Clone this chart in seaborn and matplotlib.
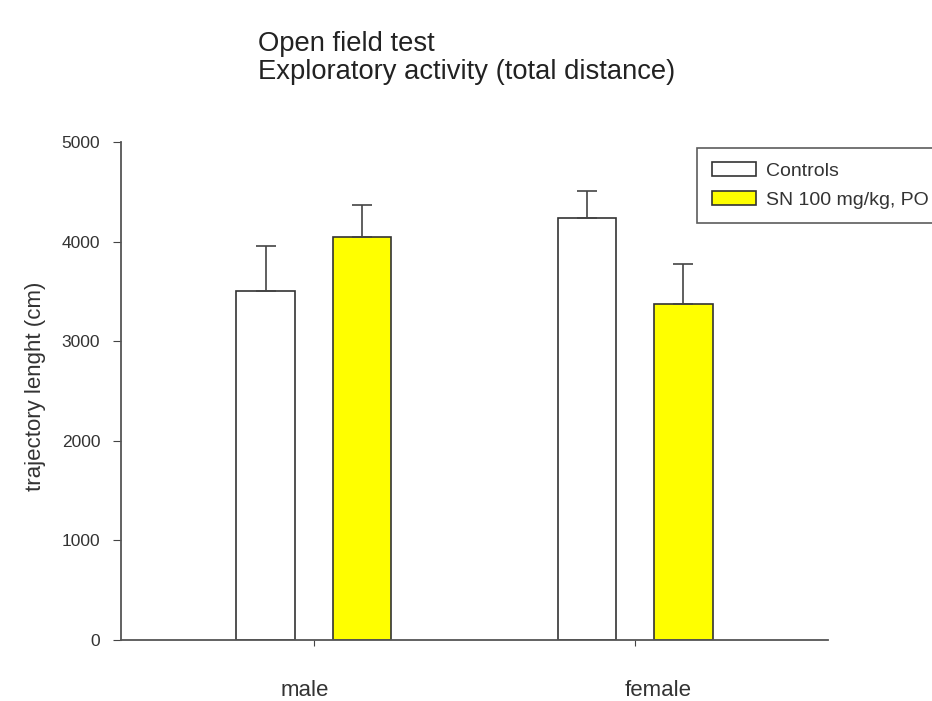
import matplotlib
matplotlib.use("Agg")
import matplotlib.pyplot as plt
import matplotlib.transforms as mtransforms
import seaborn as sns
import pandas as pd
from matplotlib.patches import Patch

sexes = ["male", "female"]
groups = ["Controls", "SN 100 mg/kg, PO"]
controls_mean = [3500, 4240]
controls_err = [460, 265]
sn_mean = [4050, 3370]
sn_err = [315, 410]
colors = ["#ffffff", "#ffff00"]
yticks = [0, 1000, 2000, 3000, 4000, 5000]

df = pd.DataFrame({
    "sex": sexes * 2,
    "group": [groups[0]] * 2 + [groups[1]] * 2,
    "mean": controls_mean + sn_mean,
    "err": controls_err + sn_err,
})

sns.set_style("ticks")
plt.rcParams["font.family"] = ["Liberation Sans", "DejaVu Sans"]

fig = plt.figure(figsize=(9.32, 7.01), dpi=100)
ax = fig.add_axes([0.1298, 0.087, 0.7586, 0.7104])

sns.barplot(data=df, x="sex", y="mean", hue="group", order=sexes, hue_order=groups,
            palette=colors, saturation=1, width=0.6, gap=0.39, errorbar=None,
            edgecolor="#333333", linewidth=1.2, ax=ax, legend=False)

bars = list(ax.patches)
for i, g in enumerate(groups):
    for j, s in enumerate(sexes):
        p = bars[i * len(sexes) + j]
        sub = df[(df["group"] == g) & (df["sex"] == s)].iloc[0]
        xc = p.get_x() + p.get_width() / 2
        ax.errorbar(xc, sub["mean"], yerr=[[0], [sub["err"]]], fmt="none",
                    ecolor="#444444", elinewidth=1.2, capsize=7, capthick=1.2, zorder=1)

ax.set_xlim(-0.6, 1.6)
ax.set_ylim(0, 5000)
ax.set_yticks(yticks)
ax.set_yticklabels([str(t) for t in yticks], fontsize=12.5, color="#333333")
ax.tick_params(axis="x", labelsize=16, length=4, pad=25, color="#444444", labelcolor="#333333")
ax.tick_params(axis="y", length=6, pad=9, color="#444444")
# labels in the reference sit slightly off their ticks
shifts_px = [-9, 23]
for lab, dx in zip(ax.get_xticklabels(), shifts_px):
    lab.set_transform(lab.get_transform() + mtransforms.ScaledTranslation(dx / 100, 0, fig.dpi_scale_trans))
ax.set_xlabel("")
ax.set_ylabel("trajectory lenght (cm)", fontsize=16, color="#333333")
ax.yaxis.set_label_coords(-0.106, 0.51)
for s in ["top", "right"]:
    ax.spines[s].set_visible(False)
for s in ["left", "bottom"]:
    ax.spines[s].set_color("#555555")
    ax.spines[s].set_linewidth(1.3)

fig.text(0.277, 0.937, "Open field test", fontsize=19.7, ha="left", va="center", color="#222222")
fig.text(0.277, 0.897, "Exploratory activity (total distance)", fontsize=19.7,
         ha="left", va="center", color="#222222")

handles = [Patch(facecolor=c, edgecolor="#333333", linewidth=1.2) for c in colors]
leg = fig.legend(handles, groups, loc="upper left", bbox_to_anchor=(0.748, 0.789),
                 frameon=True, fancybox=False, edgecolor="#333333", fontsize=14,
                 handlelength=2.3, handleheight=0.72, handletextpad=0.5,
                 borderpad=0.75, labelspacing=0.55, borderaxespad=0)
leg.get_frame().set_linewidth(1.2)
for t in leg.get_texts():
    t.set_color("#333333")

fig.savefig("out.png", dpi=100)
